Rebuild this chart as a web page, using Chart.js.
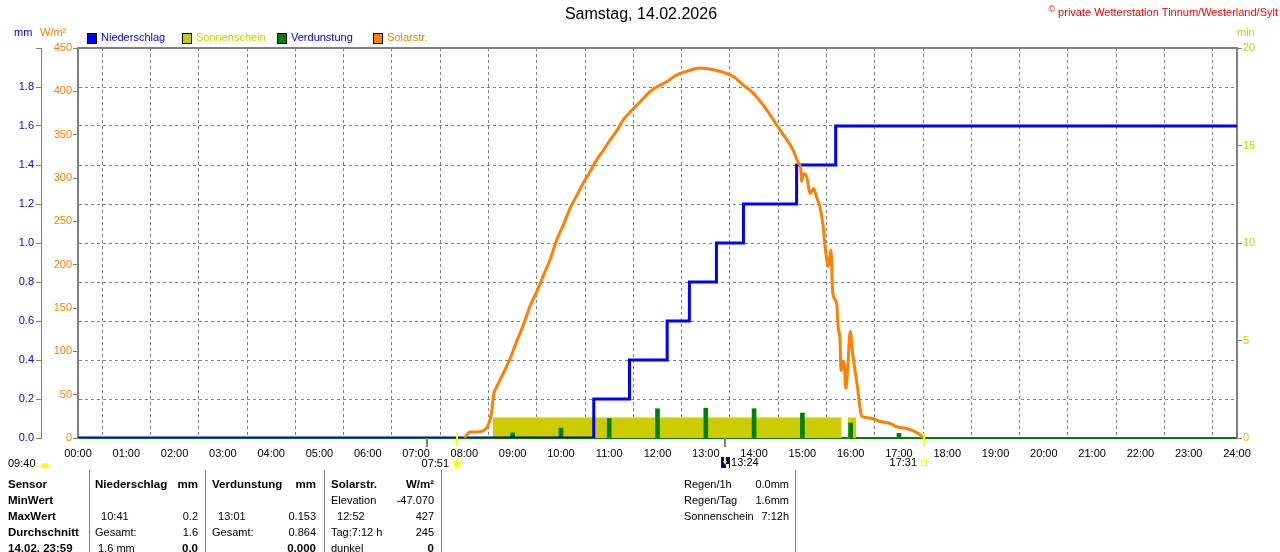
<!DOCTYPE html>
<html>
<head>
<meta charset="utf-8">
<title>Samstag, 14.02.2026</title>
<script src="https://cdn.jsdelivr.net/npm/chart.js@4.4.1/dist/chart.umd.min.js"></script>
<style>
  body { margin: 0; background: #fff; }
  canvas { display: block; }
</style>
</head>
<body>
<canvas id="wetter" width="1280" height="552"></canvas>
<script>
// Tagesdaten (Stunden als Dezimalzahl)
const rainTimes  = [0, 10.68, 11.42, 12.20, 12.66, 13.22, 13.78, 14.88, 15.69, 24];
const rainValues = [0, 0.2, 0.4, 0.6, 0.8, 1.0, 1.2, 1.4, 1.6, 1.6];

const sunTimes  = [0, 8.59, 15.81, 15.94, 16.11, 24];
const sunValues = [0, 1.05, 0, 1.05, 0, 0];

const evapHours  = [9, 10, 11, 12, 13, 14, 15, 16, 17];
const evapValues = [0.026, 0.051, 0.100, 0.150, 0.153, 0.150, 0.128, 0.077, 0.024];

const solarTimes = [8.00, 8.12, 8.26, 8.45, 8.53, 8.57, 8.60, 8.67, 8.81, 8.95, 9.08, 9.22, 9.36,
  9.50, 9.64, 9.77, 9.91, 10.05, 10.19, 10.33, 10.46, 10.60, 10.74, 10.88, 11.02, 11.16, 11.29,
  11.43, 11.57, 11.71, 11.85, 11.98, 12.19, 12.40, 12.60, 12.88, 13.16, 13.36, 13.57, 13.78,
  13.98, 14.19, 14.40, 14.54, 14.68, 14.81, 14.92, 14.97, 14.98, 15.02, 15.09, 15.16, 15.23,
  15.30, 15.37, 15.43, 15.47, 15.54, 15.59, 15.63, 15.71, 15.74, 15.78, 15.80, 15.86, 15.90,
  15.94, 15.99, 16.04, 16.09, 16.14, 16.19, 16.23, 16.40, 16.61, 16.81, 16.95, 17.16, 17.37,
  17.47, 17.50];
const solarValues = [0, 7, 7, 11, 21, 32, 48, 59, 75, 92, 111, 130, 152,
  169, 188, 205, 228, 246, 265, 280, 294, 307, 321, 332, 344, 355, 367,
  376, 384, 392, 400, 405, 411, 419, 423, 427, 425, 422, 417, 407,
  398, 384, 367, 355, 344, 332, 317, 309, 296, 305, 301, 282, 288,
  277, 265, 244, 221, 198, 217, 167, 155, 128, 113, 78, 88, 57,
  82, 123, 98, 78, 59, 36, 25, 23, 19, 17, 13, 11, 6,
  2, 0];

const xTicks = [0, 24];
const grayMarks = [7.23, 13.40];
const sunMarks = [7.85, 17.52];

const legendNames  = ['Niederschlag', 'Sonnenschein', 'Verdunstung', 'Solarstr.'];
const legendBoxes  = ['#0000ff', '#cccc00', '#008000', '#ff8000'];
const legendTexts  = ['#0000ff', '#cccc00', '#0000ff', '#ff8000'];

const sensorCol = ['Sensor', 'MinWert', 'MaxWert', 'Durchschnitt', '14.02. 23:59'];
const rainCol   = [['Niederschlag', 'mm'], ['', ''], ['  10:41', '0.2'], ['Gesamt:', '1.6'], [' 1.6 mm', '0.0']];
const evapCol   = [['Verdunstung', 'mm'], ['', ''], ['  13:01', '0.153'], ['Gesamt:', '0.864'], ['', '0.000']];
const solarCol  = [['Solarstr.', 'W/m²'], ['Elevation', '-47.070'], ['  12:52', '427'], ['Tag:7:12 h', '245'], ['dunkel', '0']];
const summaryCol = [['Regen/1h', '0.0mm'], ['Regen/Tag', '1.6mm'], ['Sonnenschein', '7:12h']];

const FONT = "'Liberation Sans', Arial, sans-serif";
const GRAY = '#808080';

const pts = (xs, ys) => xs.map((x, i) => ({ x, y: ys[i] }));

function txt(ctx, s, x, y, color, align = 'left', bold = false, size = 11) {
  ctx.font = (bold ? 'bold ' : '') + size + 'px ' + FONT;
  ctx.fillStyle = color;
  ctx.textAlign = align;
  ctx.textBaseline = 'middle';
  ctx.fillText(s, x, y);
}

const frame = {
  id: 'frame',
  beforeDatasetsDraw(chart) {
    const { ctx, chartArea: a } = chart;
    ctx.save();
    ctx.strokeStyle = GRAY;
    ctx.lineWidth = 2;
    ctx.beginPath();
    ctx.moveTo(a.left, a.bottom);
    ctx.lineTo(a.left, a.top);
    ctx.lineTo(a.right, a.top);
    ctx.lineTo(a.right, a.bottom);
    ctx.stroke();
    ctx.restore();
  }
};

const decorations = {
  id: 'decorations',
  afterDraw(chart) {
    const { ctx, chartArea: a, scales: { x } } = chart;
    ctx.save();

    // Kopfzeile
    txt(ctx, 'Samstag, 14.02.2026', 641, 15, '#000', 'center', false, 16);
    txt(ctx, 'private Wetterstation Tinnum/Westerland/Sylt', 1278, 13, '#ff0000', 'right');
    const w = ctx.measureText('private Wetterstation Tinnum/Westerland/Sylt').width;
    txt(ctx, '©', 1278 - w - 3, 10, '#ff0000', 'right', false, 9);

    // Einheiten
    txt(ctx, 'mm', 14, 33, '#0000ff');
    txt(ctx, 'W/m²', 40, 33, '#ff8000');
    txt(ctx, 'min', 1237, 33, '#cccc00');

    // Legende
    const lx = [87, 182, 277, 373];
    legendNames.forEach((n, i) => {
      ctx.fillStyle = legendBoxes[i];
      ctx.fillRect(lx[i], 33, 9, 10);
      ctx.strokeStyle = '#000';
      ctx.lineWidth = 1;
      ctx.strokeRect(lx[i] + 0.5, 33.5, 9, 10);
      txt(ctx, n, lx[i] + 14, 38, legendTexts[i]);
    });

    // Markierungen unter der Achse
    ctx.lineWidth = 2;
    grayMarks.forEach(t => {
      const px = Math.round(x.getPixelForValue(t));
      ctx.strokeStyle = GRAY;
      ctx.beginPath(); ctx.moveTo(px, a.bottom); ctx.lineTo(px, a.bottom + 9); ctx.stroke();
    });
    sunMarks.forEach(t => {
      const px = Math.round(x.getPixelForValue(t));
      ctx.strokeStyle = '#ffff00';
      ctx.beginPath(); ctx.moveTo(px, a.bottom - 5); ctx.lineTo(px, a.bottom + 8); ctx.stroke();
    });

    const rise = x.getPixelForValue(sunMarks[0]);
    const set = x.getPixelForValue(sunMarks[1]);
    const moon = x.getPixelForValue(grayMarks[1]);

    txt(ctx, '07:51', rise - 8, 464, '#000', 'right');
    ctx.fillStyle = '#ffff00';
    ctx.beginPath(); ctx.arc(rise, 464, 3.5, 0, Math.PI * 2); ctx.fill();
    ctx.strokeStyle = '#ffff66'; ctx.lineWidth = 1;
    for (let k = 0; k < 8; k++) {
      const ang = k * Math.PI / 4;
      ctx.beginPath();
      ctx.moveTo(rise + Math.cos(ang) * 4.5, 464 + Math.sin(ang) * 4.5);
      ctx.lineTo(rise + Math.cos(ang) * 6, 464 + Math.sin(ang) * 6);
      ctx.stroke();
    }

    txt(ctx, '17:31', set - 7, 463, '#000', 'right');
    ctx.strokeStyle = '#ffff00'; ctx.lineWidth = 1;
    ctx.strokeRect(Math.round(set) - 2.5, 460.5, 5, 5);

    ctx.fillStyle = '#000080';
    ctx.fillRect(Math.round(moon) - 4, 457, 9, 11);
    ctx.fillStyle = '#ffff00';
    ctx.beginPath();
    ctx.moveTo(moon - 2, 461); ctx.lineTo(moon + 2, 461); ctx.lineTo(moon, 465); ctx.closePath(); ctx.fill();
    ctx.fillRect(Math.round(moon) - 1, 457, 2, 4);
    ctx.fillStyle = '#ffffff';
    ctx.fillRect(Math.round(moon) + 1, 464, 3, 4);
    txt(ctx, '13:24', moon + 6, 463, '#000');

    txt(ctx, '09:40', 8, 464, '#000');
    ctx.fillStyle = '#ffff00';
    ctx.beginPath(); ctx.arc(45, 468, 5, Math.PI, 0); ctx.closePath(); ctx.fill();

    // Tabelle
    ctx.strokeStyle = GRAY; ctx.lineWidth = 1;
    [89, 205, 324, 441, 795].forEach(sx => {
      ctx.beginPath(); ctx.moveTo(sx + 0.5, 470); ctx.lineTo(sx + 0.5, 552); ctx.stroke();
    });
    const rowY = [485, 501, 517, 533, 549];
    sensorCol.forEach((s, r) => txt(ctx, s, 8, rowY[r], '#000', 'left', true, 11.5));
    const cols = [[rainCol, 95, 198], [evapCol, 212, 316], [solarCol, 331, 434]];
    cols.forEach(([col, l, rr]) => {
      col.forEach(([a1, b1], r) => {
        txt(ctx, a1, l, rowY[r], '#000', 'left', r === 0, r === 0 ? 11.5 : 11);
        txt(ctx, b1, rr, rowY[r], '#000', 'right', r === 0 || r === 4, r === 0 || r === 4 ? 11.5 : 11);
      });
    });
    summaryCol.forEach(([a1, b1], r) => {
      txt(ctx, a1, 684, rowY[r], '#000');
      txt(ctx, b1, 789, rowY[r], '#000', 'right');
    });

    ctx.restore();
  }
};

Chart.defaults.font.family = FONT;
Chart.defaults.font.size = 11;

new Chart(document.getElementById('wetter'), {
  type: 'line',
  data: {
    datasets: [
      {
        label: 'Niederschlag',
        data: pts(rainTimes, rainValues),
        yAxisID: 'mm',
        stepped: true,
        borderColor: '#0000ff',
        borderWidth: 3,
        pointRadius: 0,
        order: 1
      },
      {
        label: 'Sonnenschein',
        data: pts(sunTimes, sunValues),
        yAxisID: 'min',
        stepped: true,
        borderWidth: 0,
        borderColor: 'rgba(0,0,0,0)',
        backgroundColor: '#cccc00',
        fill: 'origin',
        pointRadius: 0,
        order: 3
      },
      {
        type: 'bar',
        label: 'Verdunstung',
        data: pts(evapHours, evapValues),
        yAxisID: 'mm',
        backgroundColor: '#008000',
        borderWidth: 0,
        barThickness: 4,
        order: 2
      },
      {
        label: 'Solarstr.',
        data: pts(solarTimes, solarValues),
        yAxisID: 'solar',
        borderColor: '#ff8000',
        borderWidth: 3,
        pointRadius: 0,
        cubicInterpolationMode: 'monotone',
        order: 0
      }
    ]
  },
  options: {
    responsive: false,
    animation: false,
    events: [],
    layout: { padding: { top: 48 } },
    plugins: {
      legend: { display: false },
      title: { display: false },
      tooltip: { enabled: false }
    },
    scales: {
      x: {
        type: 'linear',
        min: xTicks[0],
        max: xTicks[1],
        offset: false,
        afterFit: s => { s.height = 114; },
        ticks: {
          stepSize: 1,
          color: '#000',
          padding: 9,
          maxRotation: 0,
          autoSkip: false,
          callback: v => String(v).padStart(2, '0') + ':00'
        },
        grid: { color: GRAY, drawTicks: false },
        border: { color: '#008000', width: 2, dash: [3, 3] }
      },
      mm: {
        position: 'left',
        weight: 1,
        min: 0,
        max: 2,
        afterFit: s => { s.width = 41; },
        ticks: {
          stepSize: 0.2,
          color: '#0000ff',
          padding: 2,
          callback: v => v > 1.99 ? '' : v.toFixed(1)
        },
        grid: { color: GRAY, tickLength: 5 },
        border: { color: GRAY, width: 1, dash: [3, 3] }
      },
      solar: {
        position: 'left',
        weight: 0,
        min: 0,
        max: 450,
        afterFit: s => { s.width = 37; },
        ticks: { stepSize: 50, color: '#ff8000', padding: 1 },
        grid: { drawOnChartArea: false, color: GRAY, tickLength: 5 },
        border: { color: GRAY, width: 2 }
      },
      min: {
        position: 'right',
        min: 0,
        max: 20,
        afterFit: s => { s.width = 43; },
        ticks: { stepSize: 5, color: '#cccc00', padding: 1 },
        grid: { drawOnChartArea: false, color: GRAY, tickLength: 5 },
        border: { color: GRAY, width: 2 }
      }
    }
  },
  plugins: [frame, decorations]
});
</script>
</body>
</html>
